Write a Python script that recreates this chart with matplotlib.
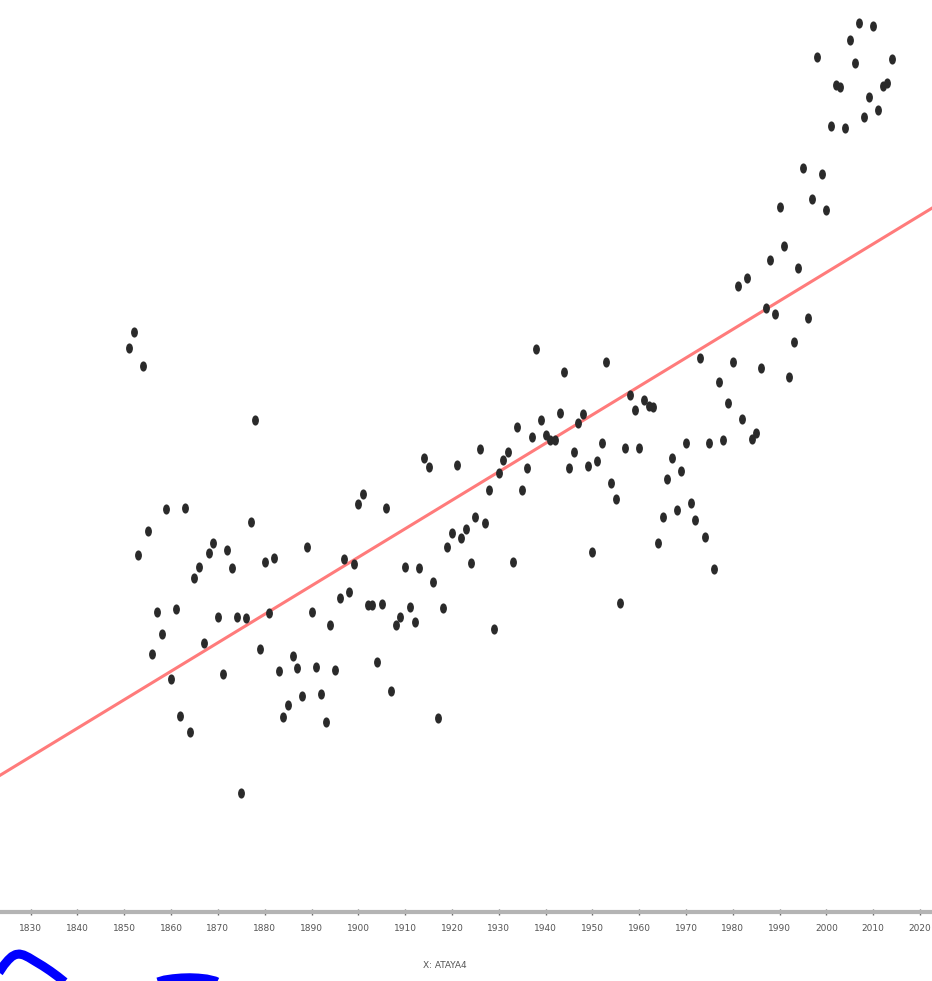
import matplotlib
matplotlib.use("Agg")
import matplotlib.pyplot as plt
import numpy as np
from matplotlib.path import Path
from matplotlib.transforms import Affine2D


# ---- yearly anomaly series
years = np.arange(1851, 2015)

anomaly = [
    0.304, 0.336, -0.110, 0.268, -0.062, -0.308, -0.224, -0.268, -0.018, -0.358,   # 1851-1860
    -0.218, -0.432, -0.016, -0.464, -0.156, -0.134, -0.286, -0.106, -0.086, -0.234,  # 1861-1870
    -0.348, -0.100, -0.136, -0.234, -0.586, -0.236, -0.044, 0.160, -0.298, -0.124,   # 1871-1880
    -0.226, -0.116, -0.342, -0.434, -0.410, -0.312, -0.336, -0.392, -0.094, -0.224,  # 1881-1890
    -0.334, -0.388, -0.444, -0.250, -0.340, -0.196, -0.118, -0.184, -0.128, -0.008,  # 1891-1900
    0.012, -0.210, -0.210, -0.324, -0.208, -0.016, -0.382, -0.250, -0.234, -0.134,   # 1901-1910
    -0.214, -0.244, -0.136, 0.084, 0.066, -0.164, -0.436, -0.216, -0.094, -0.066,    # 1911-1920
    0.070, -0.076, -0.058, -0.126, -0.034, 0.102, -0.046, 0.020, -0.258, 0.054,      # 1921-1930
    0.080, 0.096, -0.124, 0.146, 0.020, 0.064, 0.126, 0.302, 0.160, 0.130,           # 1931-1940
    0.120, 0.120, 0.174, 0.256, 0.064, 0.096, 0.154, 0.172, 0.068, -0.104,           # 1941-1950
    0.078, 0.114, 0.276, 0.034, 0.002, -0.206, 0.104, 0.210, 0.180, 0.104,           # 1951-1960
    0.200, 0.188, 0.186, -0.086, -0.034, 0.042, 0.084, -0.020, 0.058, 0.114,         # 1961-1970
    -0.006, -0.040, 0.284, -0.074, 0.114, -0.138, 0.236, 0.120, 0.194, 0.276,        # 1971-1980
    0.428, 0.162, 0.444, 0.122, 0.134, 0.264, 0.384, 0.480, 0.372, 0.586,            # 1981-1990
    0.508, 0.246, 0.316, 0.464, 0.664, 0.364, 0.602, 0.886, 0.652, 0.580,            # 1991-2000
    0.748, 0.830, 0.826, 0.744, 0.920, 0.874, 0.954, 0.766, 0.806, 0.948,            # 2001-2010
    0.780, 0.828, 0.834, 0.882,                                                      # 2011-2014
]

tick_years = list(range(1830, 2021, 10))
x_label = "X: ATAYA4"

# lower panel (only its top edge shows)
lower_x = [1822.0, 1823.3, 1824.3, 1825.2, 1826.0, 1826.8, 1827.6, 1828.5,
           1829.6, 1831.0, 1832.6, 1834.2, 1835.8, 1837.4]
lower_y = [0.20, 0.36, 0.50, 0.60, 0.67, 0.71, 0.72, 0.70,
           0.65, 0.57, 0.48, 0.38, 0.27, 0.15]
lower_x2 = [1855.0, 1856.8, 1858.6, 1860.4, 1862.2, 1864.0, 1865.8, 1867.6, 1869.4, 1871.2]
lower_y2 = [0.08, 0.15, 0.20, 0.225, 0.24, 0.245, 0.238, 0.22, 0.18, 0.10]

XLIM = (1823.45, 2022.55)

fig = plt.figure(figsize=(9.32, 9.81), dpi=100)
fig.patch.set_facecolor("white")

ax = fig.add_axes([0, 69 / 981, 1, 912 / 981])
ax.set_xlim(*XLIM)
ax.set_ylim(-0.824, 1.0)

# narrow upright dots
dot = Path.unit_circle().transformed(Affine2D().scale(0.62, 1.0))
ax.plot(years, anomaly, linestyle="none", marker=dot, markersize=6.3,
        color="#2a2a2a", zorder=3)

# linear trend
coef = np.polyfit(years, anomaly, 1)
xs = np.array(XLIM)
ax.plot(xs, np.polyval(coef, xs), color="#ff7b7b", linewidth=2.2, zorder=2)

for side in ("top", "left", "right"):
    ax.spines[side].set_visible(False)
ax.spines["bottom"].set_color("#b4b4b4")
ax.spines["bottom"].set_linewidth(3)
ax.set_yticks([])
ax.set_xticks(tick_years)
ax.set_xticklabels([str(t) for t in tick_years],
                   family=["Liberation Sans Narrow", "DejaVu Sans"],
                   fontsize=6.5, color="#555555")
ax.tick_params(axis="x", direction="inout", length=5, width=1,
               color="#666666", pad=6)

fig.text(445 / 932, 1 - 965 / 981, x_label, ha="center", va="center",
         family=["Liberation Sans Narrow", "DejaVu Sans"],
         fontsize=6.5, color="#555555")

# top of the panel below
ax2 = fig.add_axes([0, 0, 1, 41 / 981])
ax2.set_xlim(*XLIM)
ax2.set_ylim(0.18, 1.0)
ax2.plot(lower_x, lower_y, color="#0000ff", linewidth=6.5, solid_capstyle="butt")
ax2.plot(lower_x2, lower_y2, color="#0000ff", linewidth=6.5, solid_capstyle="butt")
ax2.axis("off")

fig.savefig("out.png", dpi=100, facecolor="white")
